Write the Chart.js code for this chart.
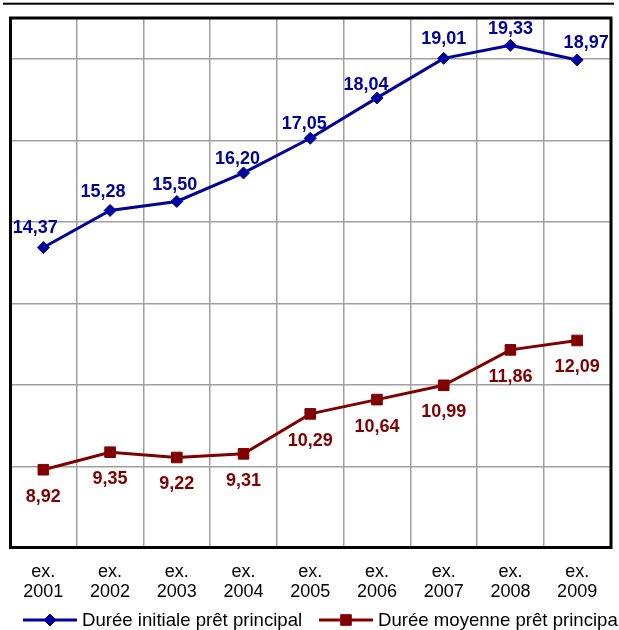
<!DOCTYPE html>
<html>
<head>
<meta charset="utf-8">
<script src="https://cdn.jsdelivr.net/npm/chart.js@4/dist/chart.umd.min.js"></script>
<style>
  html, body { margin: 0; padding: 0; background: #fff; }
  canvas { display: block; }
</style>
</head>
<body>
<canvas id="c" width="619" height="630"></canvas>
<script>
// Exercise labels (two lines each)
const categories = [
  ['ex.', '2001'], ['ex.', '2002'], ['ex.', '2003'], ['ex.', '2004'], ['ex.', '2005'],
  ['ex.', '2006'], ['ex.', '2007'], ['ex.', '2008'], ['ex.', '2009']
];
// Series names
const seriesNames = ['Durée initiale prêt principal', 'Durée moyenne prêt principal'];
// Loan durations (years)
const initialDuration = [14.37, 15.28, 15.50, 16.20, 17.05, 18.04, 19.01, 19.33, 18.97];
const averageDuration = [8.92, 9.35, 9.22, 9.31, 10.29, 10.64, 10.99, 11.86, 12.09];
// Value axis range and grid positions
const yMin = 7;
const yMax = 20;
const gridValues = [7, 9, 11, 13, 15, 17, 19];

const BLUE = '#00009a';
const RED = '#800000';
const FONT = "'Liberation Sans', Arial, sans-serif";

// Small nudges for the labels above the upper line
const upperLabelShift = [[-8, -19], [-7, -18], [-2, -16], [-6, -14], [-6, -14], [-11, -13], [0, -19], [0, -16], [9, -17]];
const lowerLabelDy = 27;

const fmt = v => v.toFixed(2).replace('.', ',');

const valueLabels = {
  id: 'valueLabels',
  afterDatasetsDraw(chart) {
    const ctx = chart.ctx;
    ctx.save();
    ctx.font = 'bold 18px ' + FONT;
    ctx.textAlign = 'center';
    ctx.textBaseline = 'middle';
    chart.data.datasets.forEach((ds, di) => {
      const meta = chart.getDatasetMeta(di);
      ctx.fillStyle = ds.borderColor;
      meta.data.forEach((pt, i) => {
        let dx = 0, dy = lowerLabelDy;
        if (di === 0) { dx = upperLabelShift[i][0]; dy = upperLabelShift[i][1]; }
        ctx.fillText(fmt(ds.data[i]), pt.x + dx, pt.y + dy);
      });
    });
    ctx.restore();
  }
};

const frame = {
  id: 'frame',
  afterDraw(chart) {
    const ctx = chart.ctx;
    const a = chart.chartArea;
    ctx.save();
    // rule across the top
    ctx.fillStyle = '#000';
    ctx.fillRect(3, 2.7, 611, 2);
    // plot border
    ctx.strokeStyle = '#000';
    ctx.lineWidth = 3;
    ctx.strokeRect(a.left + 0.5, a.top, a.right - a.left, a.bottom - a.top - 0.5);

    // legend
    const items = [
      { text: seriesNames[0], color: BLUE, style: 'rectRot', radius: 6, x: 23 },
      { text: seriesNames[1], color: RED, style: 'rect', radius: 7.5, x: 319 }
    ];
    const ly = 620;
    ctx.font = '18.6px ' + FONT;
    ctx.textBaseline = 'middle';
    ctx.textAlign = 'left';
    items.forEach(it => {
      ctx.strokeStyle = it.color;
      ctx.fillStyle = it.color;
      ctx.lineWidth = 3;
      ctx.beginPath();
      ctx.moveTo(it.x, ly);
      ctx.lineTo(it.x + 54, ly);
      ctx.stroke();
      ctx.lineWidth = 1;
      Chart.helpers.drawPoint(ctx, { pointStyle: it.style, radius: it.radius, rotation: 0, borderWidth: 1 }, it.x + 27, ly);
      ctx.fillStyle = '#000';
      ctx.fillText(it.text, it.x + 59, ly + 1);
    });
    ctx.restore();
  }
};

new Chart(document.getElementById('c'), {
  type: 'line',
  data: {
    labels: categories,
    datasets: [
      {
        label: seriesNames[0],
        data: initialDuration,
        borderColor: BLUE,
        backgroundColor: BLUE,
        borderWidth: 3,
        pointStyle: 'rectRot',
        pointRadius: 6,
        pointBorderWidth: 1,
        tension: 0
      },
      {
        label: seriesNames[1],
        data: averageDuration,
        borderColor: RED,
        backgroundColor: RED,
        borderWidth: 3,
        pointStyle: 'rect',
        pointRadius: 7.5,
        pointBorderWidth: 1,
        tension: 0
      }
    ]
  },
  options: {
    responsive: false,
    animation: false,
    devicePixelRatio: 1,
    layout: { padding: { left: 10, right: 5, top: 18, bottom: 0 } },
    plugins: { legend: { display: false }, tooltip: { enabled: false } },
    scales: {
      x: {
        offset: true,
        grid: { offset: true, color: '#a0a0a0', lineWidth: 1.5, drawTicks: false },
        border: { display: false },
        ticks: {
          color: '#000',
          padding: 13.4,
          maxRotation: 0,
          autoSkip: false,
          font: { family: FONT, size: 18, lineHeight: 1.15 }
        },
        afterFit(scale) { scale.height = 82; }
      },
      y: {
        min: yMin,
        max: yMax,
        grid: { color: '#a0a0a0', lineWidth: 1.5, drawTicks: false },
        border: { display: false },
        ticks: { display: false },
        afterBuildTicks(scale) { scale.ticks = gridValues.map(v => ({ value: v })); },
        afterFit(scale) { scale.width = 0; }
      }
    }
  },
  plugins: [valueLabels, frame]
});
</script>
</body>
</html>
